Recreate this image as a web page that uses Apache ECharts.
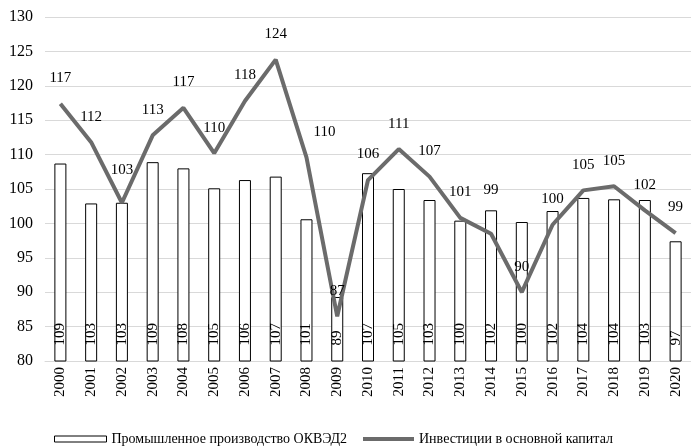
<!DOCTYPE html>
<html>
<head>
<meta charset="utf-8">
<script src="https://cdn.jsdelivr.net/npm/echarts@6/dist/echarts.min.js"></script>
<style>
  html, body { margin: 0; padding: 0; background: #fff; }
  #chart { width: 691px; height: 446px; }
</style>
</head>
<body>
<div id="chart"></div>
<script>
// Годы
const years = ['2000','2001','2002','2003','2004','2005','2006','2007','2008','2009','2010',
               '2011','2012','2013','2014','2015','2016','2017','2018','2019','2020'];

// Индексы промышленного производства (ОКВЭД2), % к предыдущему году
const industry = [108.7, 102.9, 103.0, 108.9, 108.0, 105.1, 106.3, 106.8, 100.6, 89.3, 107.3,
                  105.0, 103.4, 100.4, 101.9, 100.2, 101.8, 103.7, 103.5, 103.4, 97.4];

// Индексы инвестиций в основной капитал, % к предыдущему году
const investment = [117.4, 111.8, 103.0, 112.8, 116.8, 110.2, 117.8, 123.8, 109.6, 86.5, 106.3,
                    110.8, 106.8, 100.8, 98.5, 90.0, 99.8, 104.8, 105.4, 101.9, 98.6];

const barName = 'Промышленное производство ОКВЭД2';
const lineName = 'Инвестиции в основной капитал';

// Подписи некоторых точек линии сдвинуты, чтобы не налезать на линию
const lineLabelNudge = { '2002': [0, -7], '2008': [18, 0], '2014': [0, -18] };

const serif = '"Liberation Serif", "Times New Roman", serif';

const chart = echarts.init(document.getElementById('chart'));

chart.setOption({
  animation: false,
  backgroundColor: '#fff',
  textStyle: { fontFamily: serif, color: '#000' },
  grid: { left: 45, top: 17, width: 650, bottom: 85, containLabel: false },
  legend: [
    {
      data: [{ name: barName, icon: 'rect',
               itemStyle: { color: '#fff', borderColor: '#000', borderWidth: 1 } }],
      left: 49, top: 427, itemWidth: 52, itemHeight: 6,
      textStyle: { fontFamily: serif, fontSize: 14, color: '#000' }
    },
    {
      data: [{ name: lineName, icon: 'rect', itemStyle: { color: '#6b6b6b' } }],
      left: 358, top: 427, itemWidth: 51, itemHeight: 4,
      textStyle: { fontFamily: serif, fontSize: 14, color: '#000' }
    }
  ],
  xAxis: {
    type: 'category',
    data: years,
    axisLine: { lineStyle: { color: '#d9d9d9', width: 1 } },
    axisTick: { show: false },
    axisLabel: { rotate: 90, fontFamily: serif, fontSize: 15, color: '#000', margin: 6, interval: 0 }
  },
  yAxis: {
    type: 'value',
    min: 80, max: 130, interval: 5,
    axisLine: { show: false },
    axisTick: { show: false },
    splitLine: { lineStyle: { color: '#d9d9d9', width: 1 } },
    axisLabel: { fontFamily: serif, fontSize: 16, color: '#000', margin: 12 }
  },
  series: [
    {
      name: barName,
      type: 'bar',
      data: industry,
      barWidth: 12,
      itemStyle: { color: '#fff', borderColor: '#000', borderWidth: 1 },
      label: {
        show: true,
        position: 'insideBottom',
        rotate: 90,
        align: 'left',
        verticalAlign: 'middle',
        distance: 16,
        fontFamily: serif,
        fontSize: 15,
        color: '#000',
        formatter: p => Math.round(p.value)
      },
      z: 2
    },
    {
      name: lineName,
      type: 'line',
      data: investment,
      symbol: 'circle',
      symbolSize: 0,
      showSymbol: true,
      lineStyle: { color: '#6b6b6b', width: 4 },
      itemStyle: { color: '#6b6b6b' },
      label: {
        show: true,
        position: 'top',
        distance: 18,
        fontFamily: serif,
        fontSize: 15,
        color: '#000',
        formatter: p => Math.round(p.value)
      },
      labelLayout: params => {
        const nudge = lineLabelNudge[years[params.dataIndex]];
        return nudge ? { dx: nudge[0], dy: nudge[1], hideOverlap: false }
                     : { hideOverlap: false };
      },
      z: 3
    }
  ]
});
</script>
</body>
</html>
